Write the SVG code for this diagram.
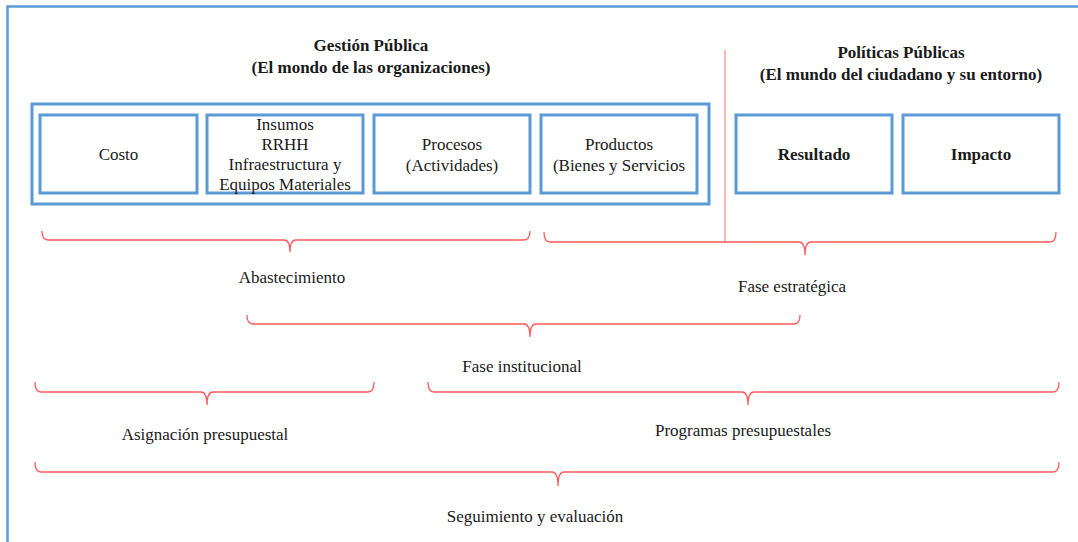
<svg xmlns="http://www.w3.org/2000/svg" width="1078" height="542" viewBox="0 0 1078 542" font-family="'Liberation Serif', 'Times New Roman', serif">
<style>
.frame{fill:none;stroke:#5B9BD5;stroke-width:2.5}
.box{fill:#fff;stroke:#5B9BD5;stroke-width:3}
.brace{fill:none;stroke:#FF5A5A;stroke-width:1.3}
text{font-family:"Liberation Serif","Times New Roman",serif;font-size:17px;fill:#1a1a1a;text-anchor:middle}
.b{font-weight:bold}
</style>
<rect x="0" y="0" width="1078" height="542" fill="#fff"/>
<path class="frame" d="M7.5,545 V6.5 H1080"/>
<g id="titles">
<text class="b" x="371" y="51">Gestión Pública</text>
<text class="b" x="371" y="73">(El mondo de las organizaciones)</text>
<text class="b" x="901" y="58">Políticas Públicas</text>
<text class="b" x="901" y="80">(El mundo del ciudadano y su entorno)</text>
</g>
<g id="gestion">
<rect class="box" x="32" y="104" width="677" height="100"/>
</g>
<g id="costo"><rect class="box" x="40" y="115" width="157" height="78"/><text x="118.5" y="160">Costo</text></g>
<g id="insumos"><rect class="box" x="207" y="115" width="156" height="78"/>
<text x="285" y="130">Insumos</text><text x="285" y="150">RRHH</text><text x="285" y="170">Infraestructura y</text><text x="285" y="190">Equipos Materiales</text></g>
<g id="procesos"><rect class="box" x="374" y="115" width="156" height="78"/>
<text x="452" y="150">Procesos</text><text x="452" y="171">(Actividades)</text></g>
<g id="productos"><rect class="box" x="541" y="115" width="156" height="78"/>
<text x="619" y="150">Productos</text><text x="619" y="171">(Bienes y Servicios</text></g>
<g id="resultado"><rect class="box" x="736" y="115" width="156" height="78"/><text class="b" x="814" y="160">Resultado</text></g>
<g id="impacto"><rect class="box" x="903" y="115" width="156" height="78"/><text class="b" x="981" y="160">Impacto</text></g>
<g id="connectors">
<line x1="725" y1="50" x2="725" y2="243" stroke="#FF8A8A" stroke-width="1.3"/>
<path class="brace" d="M42,231 Q42,240 48,240 H284 Q290,240 290,252 Q290,240 296,240 H524 Q530,240 530,231"/>
<path class="brace" d="M544,232 Q544,242 550,242 H799 Q805,242 805,255 Q805,242 811,242 H1050 Q1056,242 1056,232"/>
<path class="brace" d="M247,315 Q247,324 253,324 H524 Q530,324 530,337 Q530,324 536,324 H794 Q800,324 800,315"/>
<path class="brace" d="M35,382 Q35,392 41,392 H201 Q207,392 207,405 Q207,392 213,392 H368 Q374,392 374,382"/>
<path class="brace" d="M428,382 Q428,392 434,392 H742 Q748,392 748,405 Q748,392 754,392 H1053 Q1059,392 1059,382"/>
<path class="brace" d="M35,462 Q35,472 41,472 H552 Q558,472 558,486 Q558,472 564,472 H1053 Q1059,472 1059,462"/>
</g>
<g id="labels">
<text x="292" y="283">Abastecimiento</text>
<text x="792" y="292">Fase estratégica</text>
<text x="522" y="372">Fase institucional</text>
<text x="205" y="440">Asignación presupuestal</text>
<text x="743" y="436">Programas presupuestales</text>
<text x="535" y="522">Seguimiento y evaluación</text>
</g>
</svg>
